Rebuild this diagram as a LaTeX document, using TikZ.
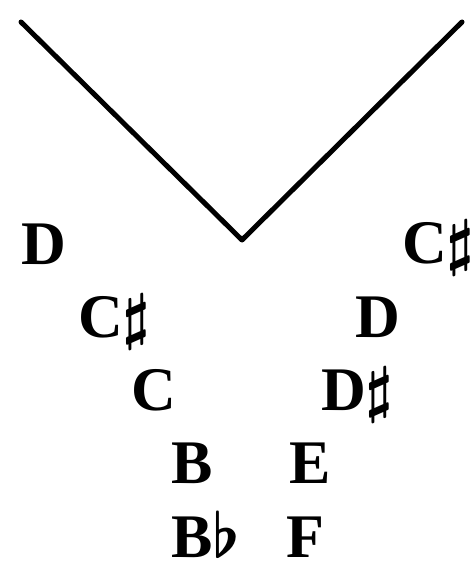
\RequirePackage{fix-cm}
\documentclass[tikz,border=0pt]{standalone}
\usepackage{fontspec}
\setmainfont{Liberation Serif}
\begin{document}
\begin{tikzpicture}[x=1pt,y=-1pt,
  note/.style={anchor=base west,inner sep=0pt,font=\fontsize{62}{62}\selectfont\bfseries\boldmath},
  vline/.style={line width=5pt,line join=round,line cap=round}]
\useasboundingbox (0,0) rectangle (472,575);
\clip (0,0) rectangle (472,575);
\coordinate (tl) at (21,22);
\coordinate (bot) at (242,240);
\coordinate (tr) at (462,22);
\draw[vline] (tl) -- (bot) -- (tr);
\node[note] (l1) at (21,264) {D};
\node[note] (l2) at (78,337) {C$\sharp$};
\node[note] (l3) at (131,410) {C};
\node[note] (l4) at (171,483) {B};
\node[note] (l5) at (171,557) {B$\flat$};
\node[note] (r1) at (402,263) {C$\sharp$};
\node[note] (r2) at (355,337) {D};
\node[note] (r3) at (321,410) {D$\sharp$};
\node[note] (r4) at (289,483) {E};
\node[note] (r5) at (286,557) {F};
\end{tikzpicture}
\end{document}
